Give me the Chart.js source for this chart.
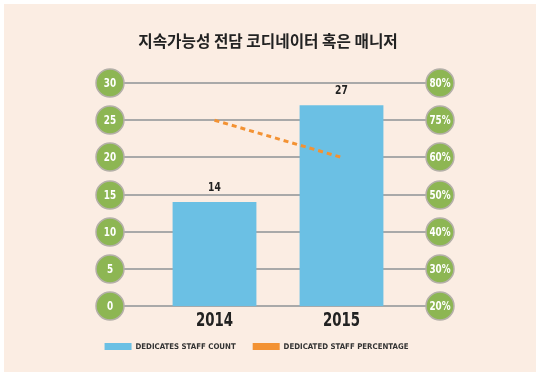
<!DOCTYPE html>
<html>
<head>
<meta charset="utf-8">
<script src="https://cdn.jsdelivr.net/npm/chart.js@4.4.1/dist/chart.umd.min.js"></script>
<style>
  body { margin: 0; background: #ffffff; }
  canvas { display: block; }
</style>
</head>
<body>
<canvas id="staffChart" width="536" height="376"></canvas>
<script>
const chartTitle = '지속가능성 전담 코디네이터 혹은 매니저';
const years = ['2014', '2015'];
const staffCount = [14, 27];
const staffPercent = [75, 60];
const countTicks = [0, 5, 10, 15, 20, 25, 30];
const percentTicks = [20, 30, 40, 50, 60, 75, 80]; // right axis is not linear, each label sits on a left tick

// percent value -> position on the left scale
function percentToCount(p) {
    return countTicks[percentTicks.indexOf(p)];
}

const cream = '#fbede3';
const green = '#8db653';
const blue = '#6bc0e4';
const orange = '#f39233';
const labelFont = '"DejaVu Sans Condensed", "DejaVu Sans", sans-serif';

// squeeze text horizontally, the original uses a narrow DIN-like face
function narrowText(ctx, txt, x, y, sx) {
    ctx.save();
    ctx.translate(x, y);
    ctx.scale(sx, 1);
    ctx.fillText(txt, 0, 0);
    ctx.restore();
}

// background, title, grid lines, tick circles, year labels and bar values
const decorPlugin = {
    id: 'decor',
    beforeDraw(chart) {
        const ctx = chart.ctx;
        ctx.save();
        ctx.fillStyle = '#ffffff';
        ctx.fillRect(0, 0, chart.width, chart.height);
        ctx.fillStyle = cream;
        ctx.fillRect(4, 4, chart.width - 4, chart.height - 8);
        // title drawn here so it stays centred on the page while the legend sits further left
        ctx.fillStyle = '#222222';
        ctx.font = 'bold 15.7px "Noto Sans CJK KR", sans-serif';
        ctx.textAlign = 'center';
        ctx.textBaseline = 'middle';
        ctx.fillText(chartTitle, 268, 41);
        ctx.restore();
    },
    beforeDatasetsDraw(chart) {
        const ctx = chart.ctx;
        const area = chart.chartArea;
        const y = chart.scales.y;
        ctx.save();
        ctx.strokeStyle = '#a9a9a9';
        ctx.lineWidth = 2;
        countTicks.forEach(v => {
            const py = Math.round(y.getPixelForValue(v));
            ctx.beginPath();
            ctx.moveTo(area.left - 41, py);
            ctx.lineTo(area.right + 35, py);
            ctx.stroke();
        });
        ctx.restore();
    },
    afterDatasetsDraw(chart) {
        const ctx = chart.ctx;
        const area = chart.chartArea;
        const x = chart.scales.x;
        const y = chart.scales.y;
        ctx.save();
        ctx.textAlign = 'center';
        ctx.textBaseline = 'middle';
        countTicks.forEach((v, i) => {
            const py = Math.round(y.getPixelForValue(v));
            [[area.left - 41, String(v)], [area.right + 35, percentTicks[i] + '%']].forEach(([px, txt]) => {
                ctx.beginPath();
                ctx.arc(px, py, 14, 0, Math.PI * 2);
                ctx.fillStyle = green;
                ctx.fill();
                ctx.lineWidth = 1.5;
                ctx.strokeStyle = '#b4b0a8';
                ctx.stroke();
                ctx.fillStyle = '#ffffff';
                ctx.font = 'bold 12px ' + labelFont;
                narrowText(ctx, txt, px, py + 0.5, 0.82);
            });
        });
        // year labels under the bars
        ctx.fillStyle = '#222222';
        ctx.font = 'bold 19px ' + labelFont;
        years.forEach((yr, i) => {
            narrowText(ctx, yr, x.getPixelForTick(i), area.bottom + 15, 0.78);
        });
        // values above the bars
        const meta = chart.getDatasetMeta(0);
        ctx.font = 'bold 12px ' + labelFont;
        meta.data.forEach((bar, i) => {
            narrowText(ctx, String(staffCount[i]), bar.x, bar.y - 14, 0.85);
        });
        ctx.restore();
    }
};

const ctx = document.getElementById('staffChart').getContext('2d');
const chart = new Chart(ctx, {
    type: 'bar',
    data: {
        labels: years,
        datasets: [{
            label: 'DEDICATES STAFF COUNT',
            data: staffCount,
            backgroundColor: blue,
            barPercentage: 0.66,
            categoryPercentage: 1,
            order: 2
        }, {
            type: 'line',
            label: 'DEDICATED STAFF PERCENTAGE',
            data: staffPercent.map(percentToCount),
            borderColor: orange,
            backgroundColor: orange,
            borderWidth: 3,
            borderDash: [5, 4],
            pointRadius: 0,
            fill: false,
            order: 1
        }]
    },
    options: {
        responsive: false,
        animation: false,
        layout: {
            padding: { left: 4, right: 27, top: 83, bottom: 15.5 }
        },
        plugins: {
            title: { display: false },
            legend: {
                position: 'bottom',
                labels: {
                    boxWidth: 27,
                    boxHeight: 7,
                    padding: 17,
                    color: '#333333',
                    font: { family: labelFont, size: 7.8, weight: 'bold' },
                    generateLabels(chart) {
                        return chart.data.datasets.map((ds, i) => ({
                            text: ds.label,
                            fillStyle: ds.backgroundColor,
                            strokeStyle: ds.backgroundColor,
                            lineWidth: 0,
                            fontColor: '#333333',
                            datasetIndex: i
                        }));
                    }
                }
            },
            tooltip: { enabled: false }
        },
        scales: {
            x: {
                grid: { display: false, drawTicks: false },
                border: { display: false },
                ticks: { display: false },
                afterFit(scale) { scale.height = 19.5; }
            },
            y: {
                position: 'left',
                min: 0,
                max: 30,
                grid: { display: false, drawTicks: false },
                border: { display: false },
                ticks: { display: false },
                afterFit(scale) { scale.width = 147; }
            },
            yRight: {
                position: 'right',
                min: 0,
                max: 30,
                grid: { display: false, drawTicks: false },
                border: { display: false },
                ticks: { display: false },
                afterFit(scale) { scale.width = 104; }
            }
        }
    },
    plugins: [decorPlugin]
});
</script>
</body>
</html>
